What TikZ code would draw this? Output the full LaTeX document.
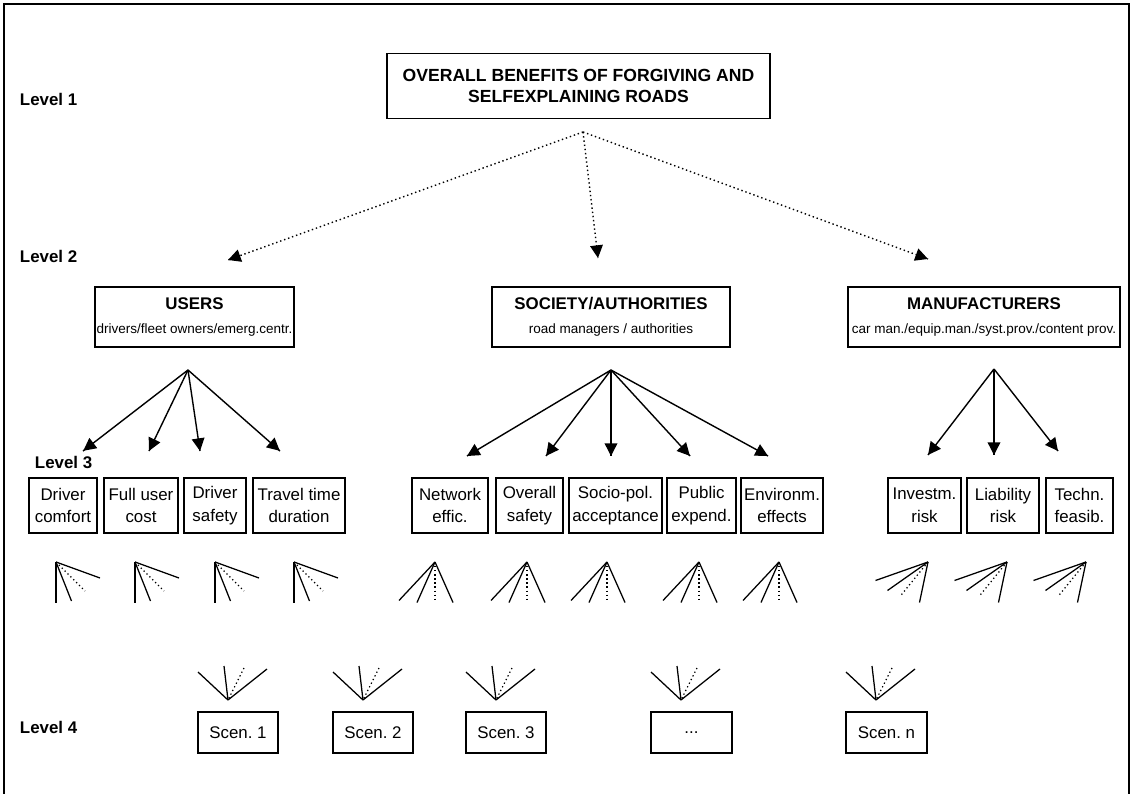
\documentclass[tikz,border=0pt]{standalone}
\usepackage{fontspec}
\setmainfont{Liberation Sans}
\usetikzlibrary{arrows.meta,decorations.markings}
\frenchspacing

\begin{document}
\begin{tikzpicture}[x=0.025cm, y=-0.025cm]
        \tikzset{lvlptr/.style={decoration={markings,mark=at position 1 with %
        {\arrow[solid]{Triangle[length=9pt,width=9pt]}}},postaction={decorate}}}
        \tikzset{lvl/.style={anchor=west, font=\fontsize{12}{14}\selectfont\bfseries}}
        \tikzset{box/.style={draw, line width=1.1pt, align=center, inner sep=1pt}}
        \tikzset{grpbox/.style={box, minimum height=1.5cm, font=\fontsize{12}{16}\selectfont}}
        \tikzset{critbox/.style={box, minimum height=1.375cm, font=\fontsize{12}{16}\selectfont}}
        \tikzset{scenbox/.style={box, minimum width=2cm, minimum height=1.025cm, font=\fontsize{12}{14}\selectfont}}
        \tikzset{fanln/.style={line width=0.9pt}}
        \newcommand{\subtxt}{\fontsize{9.6}{11}\selectfont}

        \useasboundingbox (0, 0) rectangle (1133, 794);
        % frame
        \draw[line width=1.4pt] (4, 800) -- (4, 4) -- (1129, 4) -- (1129, 800);

        % level labels
        \node[lvl] (lev1) at (15, 99) {Level 1};
        \node[lvl] (lev2) at (15, 256) {Level 2};
        \node[lvl] (lev3) at (30, 462) {Level 3};
        \node[lvl] (lev4) at (15, 727) {Level 4};

        % level 1
        \node[box, minimum width=9.575cm, minimum height=1.625cm,
            font=\fontsize{12.5}{15}\selectfont\bfseries] (top) at (578.5, 86)
            {OVERALL BENEFITS OF FORGIVING AND\\SELFEXPLAINING ROADS};

        % level 2
        \node[grpbox, minimum width=4.975cm] (users) at (194.5, 317)
            {\textbf{USERS}\\[1pt]{\subtxt drivers/fleet owners/emerg.centr.}};
        \node[grpbox, minimum width=5.95cm] (society) at (611, 317)
            {\textbf{SOCIETY/AUTHORITIES}\\[1pt]{\subtxt road managers / authorities}};
        \node[grpbox, minimum width=6.8cm] (manuf) at (984, 317)
            {\textbf{MANUFACTURERS}\\[1pt]{\subtxt car man./equip.man./syst.prov./content prov.}};

        % level 3, users
        \node[critbox, minimum width=1.7cm] (dc) at (63, 505.5) {Driver\\comfort};
        \node[critbox, minimum width=1.85cm] (fuc) at (141, 505.5) {Full user\\cost};
        \node[critbox, minimum width=1.55cm] (ds) at (215, 505.5) {Driver\\safety};
        \node[critbox, minimum width=2.3cm] (ttd) at (299, 505.5) {Travel time\\duration};
        % level 3, society
        \node[critbox, minimum width=1.9cm] (ne) at (450, 505.5) {Network\\effic.};
        \node[critbox, minimum width=1.675cm] (os) at (529.5, 505.5) {Overall\\safety};
        \node[critbox, minimum width=2.325cm] (spa) at (615.5, 505.5) {Socio-pol.\\acceptance};
        \node[critbox, minimum width=1.725cm] (pe) at (701.5, 505.5) {Public\\expend.};
        \node[critbox, minimum width=2.05cm] (ee) at (782, 505.5) {Environm.\\effects};
        % level 3, manufacturers
        \node[critbox, minimum width=1.825cm] (ir) at (924.5, 505.5) {Investm.\\risk};
        \node[critbox, minimum width=1.8cm] (lr) at (1003, 505.5) {Liability\\risk};
        \node[critbox, minimum width=1.675cm] (tf) at (1079.5, 505.5) {Techn.\\feasib.};

        % level 4
        \node[scenbox] (sc1) at (238, 732.5) {Scen. 1};
        \node[scenbox] (sc2) at (373, 732.5) {Scen. 2};
        \node[scenbox] (sc3) at (506, 732.5) {Scen. 3};
        \node[scenbox, minimum width=2.025cm] (scx) at (691.5, 732.5) {...};
        \node[scenbox, minimum width=2.025cm] (scn) at (886.5, 732.5) {Scen. n};

        % fork points and arrow ends
        \coordinate (top-fork) at (583, 132);
        \coordinate (users-in) at (228, 260);
        \coordinate (society-in) at (598, 258);
        \coordinate (manuf-in) at (928, 259);
        \coordinate (users-fork) at (188, 370);
        \coordinate (society-fork) at (611, 370);
        \coordinate (manuf-fork) at (994, 369);
        \coordinate (dc-in) at (83, 451);
        \coordinate (fuc-in) at (149, 451);
        \coordinate (ds-in) at (200, 451);
        \coordinate (ttd-in) at (280, 451);
        \coordinate (ne-in) at (467, 456);
        \coordinate (os-in) at (546, 456);
        \coordinate (spa-in) at (611, 456);
        \coordinate (pe-in) at (690, 456);
        \coordinate (ee-in) at (768, 456);
        \coordinate (ir-in) at (928, 455);
        \coordinate (lr-in) at (994, 455);
        \coordinate (tf-in) at (1058, 451);

        % arrows level 1 to level 2
        \draw[lvlptr, dotted, line width=1pt] (top-fork) -- (users-in);
        \draw[lvlptr, dotted, line width=1pt] (top-fork) -- (society-in);
        \draw[lvlptr, dotted, line width=1pt] (top-fork) -- (manuf-in);

        % arrows level 2 to level 3
        \draw[lvlptr, line width=1pt] (users-fork) -- (dc-in);
        \draw[lvlptr, line width=1pt] (users-fork) -- (fuc-in);
        \draw[lvlptr, line width=1pt] (users-fork) -- (ds-in);
        \draw[lvlptr, line width=1pt] (users-fork) -- (ttd-in);
        \draw[lvlptr, line width=1pt] (society-fork) -- (ne-in);
        \draw[lvlptr, line width=1pt] (society-fork) -- (os-in);
        \draw[lvlptr, line width=1pt] (society-fork) -- (spa-in);
        \draw[lvlptr, line width=1pt] (society-fork) -- (pe-in);
        \draw[lvlptr, line width=1pt] (society-fork) -- (ee-in);
        \draw[lvlptr, line width=1pt] (manuf-fork) -- (ir-in);
        \draw[lvlptr, line width=1pt] (manuf-fork) -- (lr-in);
        \draw[lvlptr, line width=1pt] (manuf-fork) -- (tf-in);

        % fans below level 3
        \foreach \x in {56, 135, 215, 294} {
            \draw[fanln] (\x, 562) -- ++(0, 41);
            \draw[fanln] (\x, 562) -- ++(15.5, 39);
            \draw[fanln, dotted] (\x, 562) -- ++(29, 29);
            \draw[fanln] (\x, 562) -- ++(44, 16);
        }
        \foreach \x in {435, 527, 607, 699, 779} {
            \draw[fanln] (\x, 562) -- ++(-36, 38.5);
            \draw[fanln] (\x, 562) -- ++(-18, 40.5);
            \draw[fanln, dotted] (\x, 562) -- ++(0, 38.5);
            \draw[fanln] (\x, 562) -- ++(18, 40.5);
        }
        \foreach \x in {928, 1007, 1086} {
            \draw[fanln] (\x, 562) -- ++(-52.5, 18.5);
            \draw[fanln] (\x, 562) -- ++(-40.5, 28.5);
            \draw[fanln, dotted] (\x, 562) -- ++(-28, 34.5);
            \draw[fanln] (\x, 562) -- ++(-8.5, 40.5);
        }

        % fans above level 4
        \foreach \x in {198, 333, 466, 651, 846} {
            \draw[fanln] (\x, 672) -- (\x+30, 700);
            \draw[fanln] (\x+26, 666) -- (\x+30, 700);
            \draw[fanln, dotted] (\x+46, 668) -- (\x+30, 700);
            \draw[fanln] (\x+69, 669) -- (\x+30, 700);
        }
    \end{tikzpicture}
\end{document}
